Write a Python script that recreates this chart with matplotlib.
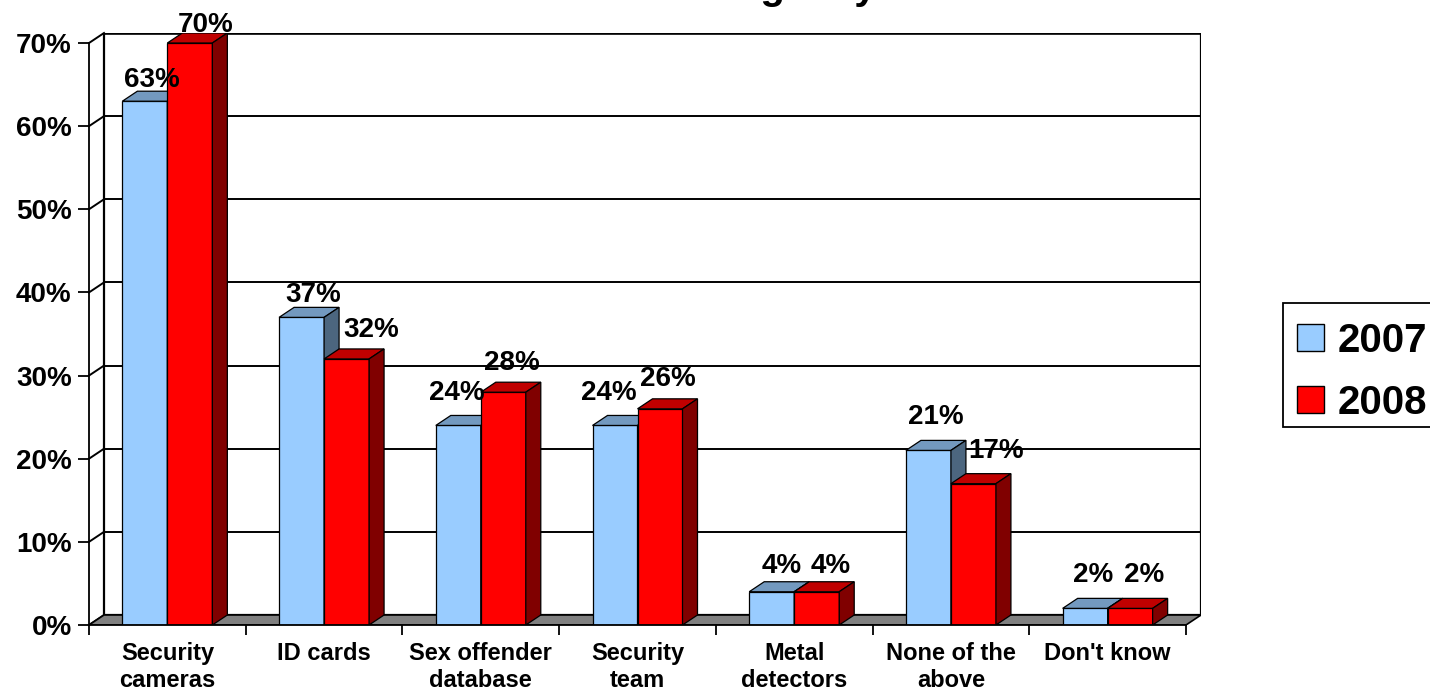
import matplotlib
matplotlib.use("Agg")
import matplotlib.pyplot as plt
from matplotlib.patches import Polygon, Rectangle

# ---------------- data ----------------
categories = ["Security\ncameras", "ID cards", "Sex offender\ndatabase", "Security\nteam",
              "Metal\ndetectors", "None of the\nabove", "Don't know"]
series_names = ["2007", "2008"]
values_2007 = [63, 37, 24, 24, 4, 21, 2]
values_2008 = [70, 32, 28, 26, 4, 17, 2]
y_ticks = [0, 10, 20, 30, 40, 50, 60, 70]
y_tick_labels = [f"{t}%" for t in y_ticks]
title_text = "Security Measures Used\nat Your Agency"

# ---------------- style / layout ----------------
W, H, DPI = 1430, 696, 100
front_left, front_bottom = 89, 625      # pixel position of front origin
back_right, back_top = 1201, 33         # pixel extent of back wall
depth_px = (15, 10)                     # 3-D depth offset in pixels
bar_px = 45                             # bar width in pixels
front_colors = ["#99CCFF", "#FF0000"]
top_colors = ["#7399BF", "#C00000"]
side_colors = ["#4C667F", "#800000"]
label_gap_px = 22
# small per-label nudges (pixels, +x right, +y down) mimicking the original label placement
label_nudge_2007 = [(0, 8), (4, 7), (-9, -3), (-14, -3), (2, 3), (0, -4), (0, -4)]
label_nudge_2008 = [(8, 11), (17, 0), (1, 0), (0, -1), (6, 3), (15, -4), (6, -4)]

plt.rcParams["font.family"] = ["Liberation Sans", "DejaVu Sans"]
plt.rcParams["font.weight"] = "bold"

fig = plt.figure(figsize=(W / DPI, H / DPI), dpi=DPI)
n = len(categories)
ymax = y_ticks[-1]
ax = fig.add_axes([front_left / W, (H - front_bottom) / H,
                   (back_right - front_left) / W, (front_bottom - back_top) / H])
px_per_cat = (back_right - depth_px[0] - front_left) / n
px_per_pct = (front_bottom - back_top - depth_px[1]) / ymax
DX = depth_px[0] / px_per_cat
DY = depth_px[1] / px_per_pct
ax.set_xlim(0, n + DX)
ax.set_ylim(0, ymax + DY)
ax.patch.set_visible(False)

# spines & ticks
for s in ["top", "right"]:
    ax.spines[s].set_visible(False)
ax.spines["left"].set_bounds(0, ymax)
ax.spines["bottom"].set_bounds(0, n)
for s in ["left", "bottom"]:
    ax.spines[s].set_linewidth(1.3)
    ax.spines[s].set_zorder(6)
ax.set_yticks(y_ticks)
ax.set_yticklabels(y_tick_labels)
ax.tick_params(axis="y", direction="out", length=8, width=1.3, pad=4.5, labelsize=20)
ax.set_xticks(range(n + 1))
ax.set_xticklabels([])
ax.set_xticks([i + 0.5 for i in range(n)], minor=True)
ax.set_xticklabels(categories, minor=True, fontsize=17, fontweight="bold", linespacing=1.2)
ax.tick_params(axis="x", which="major", direction="out", length=7.5, width=1.3)
ax.tick_params(axis="x", which="minor", length=0, pad=12.5)

# back wall
ax.add_patch(Rectangle((DX, DY), n, ymax, facecolor="white", edgecolor="black",
                       linewidth=1.6, zorder=0.5))
ax.plot([DX, n + DX], [ymax + DY, ymax + DY], color="black", lw=2.6, zorder=0.9,
        solid_capstyle="projecting")
for t in y_ticks[1:-1]:
    ax.plot([DX, n + DX], [t + DY, t + DY], color="black", lw=1.4, zorder=0.8)
# side wall lines
for t in y_ticks:
    ax.plot([0, DX], [t, t + DY], color="black", lw=1.4, zorder=0.8, clip_on=False)
# floor
ax.add_patch(Polygon([(0, 0), (n, 0), (n + DX, DY), (DX, DY)], closed=True,
                     facecolor="#808080", edgecolor="black", linewidth=1.2, zorder=1))

# bars
bw = bar_px / px_per_cat
label_dy = label_gap_px / px_per_pct
for si, (vals, nudges) in enumerate([(values_2007, label_nudge_2007),
                                     (values_2008, label_nudge_2008)]):
    offs = (si - 0.5) * bw
    xs = [i + 0.5 + offs for i in range(n)]
    z = 3 + si
    ax.bar(xs, vals, width=bw, color=front_colors[si], edgecolor="black",
           linewidth=0.9, zorder=z, label=series_names[si])
    for x, v, (ndx, ndy) in zip(xs, vals, nudges):
        xl, xr = x - bw / 2, x + bw / 2
        ax.add_patch(Polygon([(xl, v), (xr, v), (xr + DX, v + DY), (xl + DX, v + DY)],
                             closed=True, facecolor=top_colors[si], edgecolor="black",
                             linewidth=0.9, zorder=z))
        ax.add_patch(Polygon([(xr, 0), (xr + DX, DY), (xr + DX, v + DY), (xr, v)],
                             closed=True, facecolor=side_colors[si], edgecolor="black",
                             linewidth=0.9, zorder=z))
        ax.text(x + DX / 2 + ndx / px_per_cat, v + label_dy - ndy / px_per_pct, f"{v}%",
                ha="center", va="baseline", fontsize=20, fontweight="bold",
                zorder=7, clip_on=False)

# legend (drawn as a framed key at the right)
def fx(px):
    return px / W

def fy(py):
    return 1 - py / H

fig.add_artist(Rectangle((fx(1283), fy(427)), fx(1460) - fx(1283), fy(303) - fy(427),
                         transform=fig.transFigure, facecolor="white", edgecolor="black",
                         linewidth=1.3))
legend_rows = [337.5, 399.5]
for name, color, cy in zip(series_names, front_colors, legend_rows):
    fig.add_artist(Rectangle((fx(1297), fy(cy + 13.5)), fx(27), 27 / H,
                             transform=fig.transFigure, facecolor=color,
                             edgecolor="black", linewidth=1))
    fig.text(fx(1338), fy(cy + 14.5), name, ha="left", va="baseline",
             fontsize=29, fontweight="bold")

# title (mostly above the visible area)
fig.text(732 / W, (H + 1 - 8.4) / H, title_text, ha="center", va="bottom",
         fontsize=29, fontweight="bold")

fig.savefig("out.png", dpi=DPI)
